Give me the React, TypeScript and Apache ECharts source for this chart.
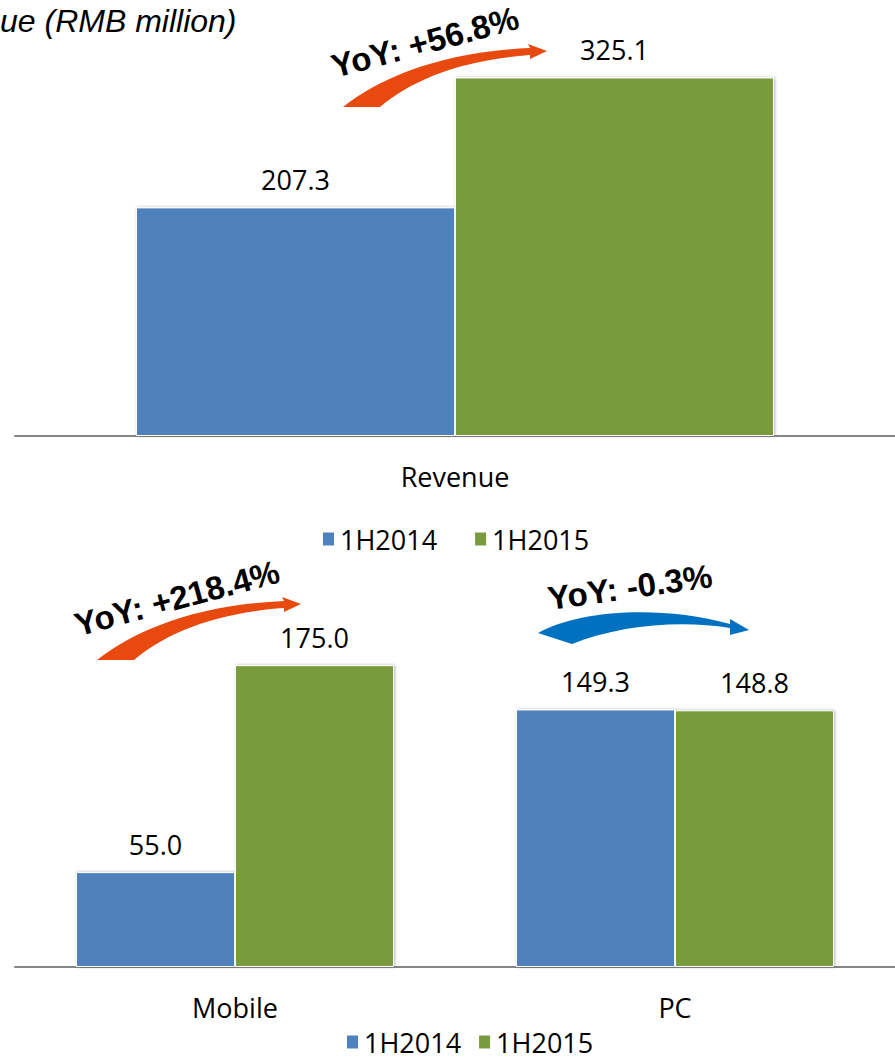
import React, { useEffect, useRef } from "react";
import * as echarts from "echarts";

const titleText = "ue (RMB million)";
const seriesNames = ["1H2014", "1H2015"];
const categoriesTop = ["Revenue"];
const revenue2014 = [207.3];
const revenue2015 = [325.1];
const categoriesBottom = ["Mobile", "PC"];
const segment2014 = [55.0, 149.3];
const segment2015 = [175.0, 148.8];
const yoyLabels = ["YoY: +56.8%", "YoY: +218.4%", "YoY: -0.3%"];

const BLUE = "#4F81BD";
const GREEN = "#799A3E";
const ORANGE = "#E8490F";
const ARROW_BLUE = "#0070C0";
const FONT = '"Open Sans", "Noto Sans", sans-serif';
const BOLD_FONT = 'bold 33px "Liberation Sans", Arial, sans-serif';

echarts.graphic.registerShape(
  "orangeArrow",
  echarts.graphic.extendPath(
    "M3,67 C40,38 100,12 190,8 L188,4 L207,11 L190,19 L190,15 C120,20 72,40 40,67 Z",
    {}
  )
);
echarts.graphic.registerShape(
  "blueArrow",
  echarts.graphic.extendPath(
    "M8,28 C50,5 130,0 200,19 L200,14 L219,25 L200,30 L200,23 C150,15 90,20 42,39 Z",
    {}
  )
);

export default function App() {
  const ref = useRef<HTMLDivElement>(null);
  useEffect(() => {
    if (!ref.current) return;
    const chart = echarts.init(ref.current, undefined, { renderer: "svg" });
    const labelCfg = {
      show: true,
      position: "top",
      distance: 14,
      color: "#000",
      fontSize: 27,
      fontFamily: FONT,
      formatter: (p: any) => Number(p.value).toFixed(1),
    };
    const itemStyle = (c: string) => ({
      color: c,
      borderColor: "#fff",
      borderWidth: 1,
      shadowColor: "rgba(0,0,0,0.3)",
      shadowBlur: 3,
      shadowOffsetX: 1,
    });
    const axisCommon = {
      type: "category",
      axisLine: { show: true, lineStyle: { color: "#868686", width: 2 } },
      axisTick: { show: false },
      axisLabel: { color: "#000", fontSize: 27, fontFamily: FONT, margin: 27 },
    };
    const yCommon = {
      type: "value",
      min: 0,
      show: false,
      splitLine: { show: false },
    };
    const legendCommon = {
      data: seriesNames,
      icon: "rect",
      itemWidth: 13,
      itemHeight: 15,
      padding: 0,
      textStyle: { color: "#000", fontSize: 27, fontFamily: FONT, lineHeight: 28 },
    };
    chart.setOption({
      animation: false,
      backgroundColor: "#fff",
      grid: [
        { left: 15, right: 0, top: 50, height: 386 },
        { left: 15, right: 0, top: 622, height: 345 },
      ],
      xAxis: [
        { ...axisCommon, gridIndex: 0, data: categoriesTop },
        { ...axisCommon, gridIndex: 1, data: categoriesBottom },
      ],
      yAxis: [
        { ...yCommon, gridIndex: 0, max: 350 },
        { ...yCommon, gridIndex: 1, max: 200 },
      ],
      legend: [
        { ...legendCommon, left: 321, top: 525, itemGap: 36 },
        { ...legendCommon, left: 345, top: 1028, itemGap: 16 },
      ],
      series: [
        { name: seriesNames[0], type: "bar", xAxisIndex: 0, yAxisIndex: 0, data: revenue2014, barWidth: 319, barGap: "0%", itemStyle: itemStyle(BLUE), label: labelCfg },
        { name: seriesNames[1], type: "bar", xAxisIndex: 0, yAxisIndex: 0, data: revenue2015, barWidth: 319, barGap: "0%", itemStyle: itemStyle(GREEN), label: labelCfg },
        { name: seriesNames[0], type: "bar", xAxisIndex: 1, yAxisIndex: 1, data: segment2014, barWidth: 159, barGap: "0%", itemStyle: itemStyle(BLUE), label: labelCfg },
        { name: seriesNames[1], type: "bar", xAxisIndex: 1, yAxisIndex: 1, data: segment2015, barWidth: 159, barGap: "0%", itemStyle: itemStyle(GREEN), label: labelCfg },
      ],
      graphic: [
        {
          type: "text",
          x: 0,
          y: 21,
          style: {
            text: titleText,
            font: 'italic 32px "Liberation Sans", Arial, sans-serif',
            fill: "#000",
            textVerticalAlign: "middle",
            verticalAlign: "middle",
          },
        },
        { type: "orangeArrow", x: 340, y: 40, style: { fill: ORANGE } },
        { type: "orangeArrow", x: 94, y: 593, style: { fill: ORANGE } },
        { type: "blueArrow", x: 530, y: 605, style: { fill: ARROW_BLUE } },
        {
          type: "text",
          x: 425,
          y: 42,
          rotation: (15 * Math.PI) / 180,
          style: { text: yoyLabels[0], font: BOLD_FONT, fill: "#000", textAlign: "center", align: "center", textVerticalAlign: "middle", verticalAlign: "middle" },
        },
        {
          type: "text",
          x: 177,
          y: 598,
          rotation: (15 * Math.PI) / 180,
          style: { text: yoyLabels[1], font: BOLD_FONT, fill: "#000", textAlign: "center", align: "center", textVerticalAlign: "middle", verticalAlign: "middle" },
        },
        {
          type: "text",
          x: 630,
          y: 587,
          rotation: (8 * Math.PI) / 180,
          style: { text: yoyLabels[2], font: BOLD_FONT, fill: "#000", textAlign: "center", align: "center", textVerticalAlign: "middle", verticalAlign: "middle" },
        },
      ],
    });
    return () => chart.dispose();
  }, []);
  return (
    <div
      ref={ref}
      style={{ position: "absolute", left: 0, top: 0, width: 895, height: 1062 }}
    />
  );
}
